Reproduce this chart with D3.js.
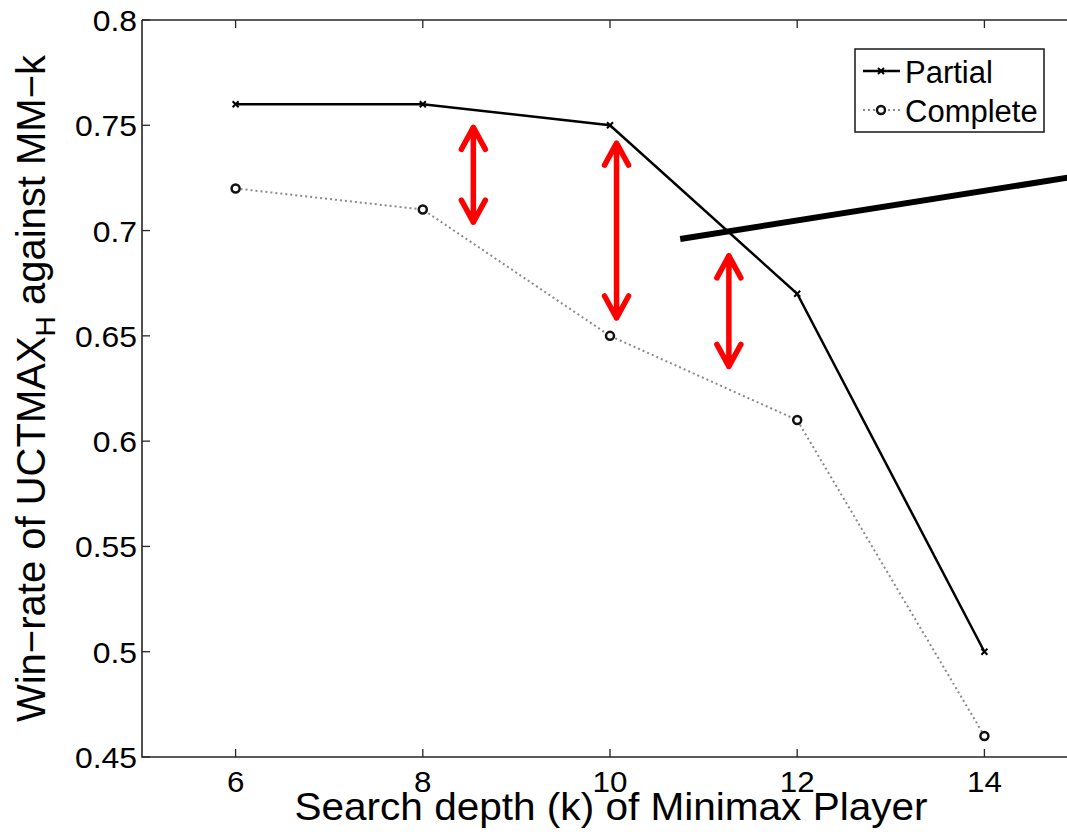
<!DOCTYPE html>
<html>
<head>
<meta charset="utf-8">
<script src="https://cdn.jsdelivr.net/npm/d3@7"></script>
<style>
  body { margin: 0; overflow: hidden; background: #fff; }
  text { font-family: "Liberation Sans", Arial, Helvetica, sans-serif; fill: #000; }
</style>
</head>
<body>
<div id="chart"></div>
<script>
// search depth k
const depths = [6, 8, 10, 12, 14];
const partial = [0.76, 0.76, 0.75, 0.67, 0.50];
const complete = [0.72, 0.71, 0.65, 0.61, 0.46];
const xTicks = [6, 8, 10, 12, 14];
const yTicks = [0.45, 0.5, 0.55, 0.6, 0.65, 0.7, 0.75, 0.8];

// hand drawn annotations, in data units
const arrows = [
    { x: 8.54, y0: 0.749, y1: 0.704 },
    { x: 10.07, y0: 0.7415, y1: 0.6585 },
    { x: 11.27, y0: 0.688, y1: 0.6355 }
];
const slashLine = [[10.75, 0.696], [15, 0.7259]];

const W = 1067, H = 835;
const pLeft = 142, pTop = 20, pRight = 1078, pBottom = 757;

const svg = d3.select("#chart").append("svg")
    .attr("width", W)
    .attr("height", H);

const x = d3.scaleLinear().domain([5, 15]).range([pLeft, pRight]);
const y = d3.scaleLinear().domain([0.45, 0.8]).range([pBottom, pTop]);

const axisColor = "#262626";

// frame (top and left/bottom axes; right edge is outside the picture)
svg.append("path")
    .attr("d", `M${pLeft},${pTop}H${pRight}M${pLeft},${pTop}V${pBottom}H${pRight}`)
    .attr("fill", "none")
    .attr("stroke", axisColor)
    .attr("stroke-width", 1.6);

// ticks pointing inwards
const tickLen = 8;
svg.selectAll(".xt").data(xTicks).enter().append("path")
    .attr("d", d => `M${x(d)},${pBottom}v${-tickLen}M${x(d)},${pTop}v${tickLen}`)
    .attr("stroke", axisColor)
    .attr("stroke-width", 1.3);
svg.selectAll(".yt").data(yTicks).enter().append("path")
    .attr("d", d => `M${pLeft},${y(d)}h${tickLen}`)
    .attr("stroke", axisColor)
    .attr("stroke-width", 1.3);

svg.selectAll(".xl").data(xTicks).enter().append("text")
    .attr("transform", d => `translate(${x(d)},792) scale(1.08,1)`)
    .attr("text-anchor", "middle")
    .style("font-size", "29px")
    .text(d => d);
svg.selectAll(".yl").data(yTicks).enter().append("text")
    .attr("transform", d => `translate(${pLeft - 5},${y(d) + 11}) scale(1.1,1)`)
    .attr("text-anchor", "end")
    .style("font-size", "29px")
    .text(d => String(+d.toFixed(2)));

// axis titles
svg.append("text")
    .attr("transform", "translate(611,820) scale(1.04,1)")
    .attr("text-anchor", "middle")
    .style("font-size", "39px")
    .text("Search depth (k) of Minimax Player");

const yLab = svg.append("text")
    .attr("transform", `translate(45,${(pTop + pBottom) / 2}) rotate(-90)`)
    .attr("text-anchor", "middle")
    .style("font-size", "40px");
yLab.append("tspan").text("Win\u2212rate of UCTMAX");
yLab.append("tspan").attr("dy", 10).style("font-size", "28px").text("H");
yLab.append("tspan").attr("dy", -10).text(" against MM\u2212k");

// series lines
const line = d3.line().x(d => x(d[0])).y(d => y(d[1]));
const partialPts = depths.map((d, i) => [d, partial[i]]);
const completePts = depths.map((d, i) => [d, complete[i]]);

svg.append("path")
    .datum(completePts)
    .attr("d", line)
    .attr("fill", "none")
    .attr("stroke", "#8a8a8a")
    .attr("stroke-width", 2)
    .attr("stroke-dasharray", "2,3");

svg.append("path")
    .datum(partialPts)
    .attr("d", line)
    .attr("fill", "none")
    .attr("stroke", "#000")
    .attr("stroke-width", 2.5);

const xMark = "M-3,-3L3,3M-3,3L3,-3";
svg.selectAll(".pm").data(partialPts).enter().append("path")
    .attr("transform", d => `translate(${x(d[0])},${y(d[1])})`)
    .attr("d", xMark)
    .attr("stroke", "#000")
    .attr("stroke-width", 2);

svg.selectAll(".cm").data(completePts).enter().append("circle")
    .attr("cx", d => x(d[0]))
    .attr("cy", d => y(d[1]))
    .attr("r", 4)
    .attr("fill", "#fff")
    .attr("stroke", "#111")
    .attr("stroke-width", 2.5);

// legend
const lg = svg.append("g");
lg.append("rect")
    .attr("x", 855).attr("y", 49)
    .attr("width", 189).attr("height", 83)
    .attr("fill", "#fff")
    .attr("stroke", axisColor)
    .attr("stroke-width", 1.6);
lg.append("line")
    .attr("x1", 863).attr("x2", 900).attr("y1", 71).attr("y2", 71)
    .attr("stroke", "#000").attr("stroke-width", 2.5);
lg.append("path")
    .attr("transform", "translate(881,71)")
    .attr("d", xMark).attr("stroke", "#000").attr("stroke-width", 2);
lg.append("line")
    .attr("x1", 863).attr("x2", 900).attr("y1", 110).attr("y2", 110)
    .attr("stroke", "#8a8a8a").attr("stroke-width", 2).attr("stroke-dasharray", "2,3");
lg.append("circle")
    .attr("cx", 881).attr("cy", 110).attr("r", 4)
    .attr("fill", "#fff").attr("stroke", "#111").attr("stroke-width", 2.5);
lg.append("text").attr("x", 905).attr("y", 83).style("font-size", "31px").text("Partial");
lg.append("text").attr("x", 905).attr("y", 122).style("font-size", "31px").text("Complete");

// annotations
svg.append("path")
    .datum(slashLine)
    .attr("d", line)
    .attr("stroke", "#000")
    .attr("stroke-width", 6);

const headL = 22, headW = 12;
arrows.forEach(a => {
    const ax = x(a.x), ya = y(a.y0), yb = y(a.y1);
    svg.append("path")
        .attr("d", `M${ax},${ya}V${yb}` +
            `M${ax - headW},${ya + headL}L${ax},${ya}L${ax + headW},${ya + headL}` +
            `M${ax - headW},${yb - headL}L${ax},${yb}L${ax + headW},${yb - headL}`)
        .attr("fill", "none")
        .attr("stroke", "#ff0000")
        .attr("stroke-width", 5.5)
        .attr("stroke-linecap", "round")
        .attr("stroke-linejoin", "round");
});
</script>
</body>
</html>
